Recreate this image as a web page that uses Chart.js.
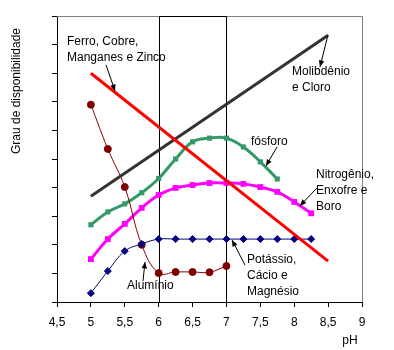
<!DOCTYPE html>
<html>
<head>
<meta charset="utf-8">
<script src="https://cdn.jsdelivr.net/npm/chart.js@4"></script>
<style>
html,body{margin:0;padding:0;background:#fff;}
#wrap{width:394px;height:350px;position:relative;}
</style>
</head>
<body>
<div id="wrap"><canvas id="c" width="394" height="350"></canvas></div>
<script>
// ---- data ----
const xTicks = [4.5, 5, 5.5, 6, 6.5, 7, 7.5, 8, 8.5, 9];
const ferroX = [5, 8.5];
const ferroY = [8.0, 1.43];
const molibX = [5, 8.5];
const molibY = [3.7, 9.33];
const fosforoX = [5, 5.25, 5.5, 5.75, 6, 6.25, 6.5, 6.75, 7, 7.25, 7.5, 7.75];
const fosforoY = [2.7, 3.15, 3.43, 3.82, 4.32, 5.0, 5.6, 5.73, 5.73, 5.42, 4.9, 4.3];
const nitroX = [5, 5.25, 5.5, 5.75, 6, 6.25, 6.5, 6.75, 7, 7.25, 7.5, 7.75, 8, 8.25];
const nitroY = [1.5, 2.2, 2.73, 3.29, 3.74, 3.99, 4.09, 4.16, 4.16, 4.13, 4.02, 3.85, 3.5, 3.1];
const potasX = [5, 5.25, 5.5, 5.75, 6, 6.25, 6.5, 6.75, 7, 7.25, 7.5, 7.75, 8, 8.25];
const potasY = [0.31, 1.08, 1.78, 2.03, 2.2, 2.2, 2.2, 2.2, 2.2, 2.2, 2.2, 2.2, 2.2, 2.2];
const aluX = [5, 5.25, 5.5, 5.75, 6, 6.25, 6.5, 6.75, 7];
const aluY = [6.9, 5.35, 4.02, 2.0, 1.01, 1.05, 1.05, 1.04, 1.26];

const pts = (xs, ys) => xs.map((x, i) => ({x: x, y: ys[i]}));

// annotations (data coords)
const notes = [
  {lines: ["Ferro, Cobre,", "Manganes e Zinco"], x: 4.648, y: 9.09, from: [5.223, 8.29], to: [5.356, 7.38]},
  {lines: ["Molibdênio", "e Cloro"], x: 7.967, y: 8.04, from: [8.498, 9.34], to: [8.38, 8.22]},
  {lines: ["fósforo"], x: 7.362, y: 5.59, from: [7.746, 5.42], to: [7.584, 4.76]},
  {lines: ["Nitrogênio,", "Enxofre e", "Boro"], x: 8.321, y: 4.45, from: [8.336, 3.99], to: [8.085, 3.36]},
  {lines: ["Potássio,", "Cácio e", "Magnésio"], x: 7.303, y: 1.47, from: [7.274, 1.29], to: [7.082, 2.17]},
  {lines: ["Alumínio"], x: 5.533, y: 0.56, from: [5.769, 0.73], to: [5.798, 1.40]}
];

const FONT = '12px "Liberation Sans", Arial, sans-serif';

const decor = {
  id: 'decor',
  beforeDatasetsDraw(chart) {
    const {ctx, chartArea: a, scales: {x, y}} = chart;
    ctx.save();
    // grey frame top/right
    ctx.strokeStyle = '#808080';
    ctx.lineWidth = 1;
    ctx.beginPath();
    ctx.moveTo(a.left, a.top + 0.5);
    ctx.lineTo(a.right + 0.5, a.top + 0.5);
    ctx.lineTo(a.right + 0.5, a.bottom);
    ctx.stroke();
    // black rectangle between pH 6 and 7
    const x6 = Math.round(x.getPixelForValue(6)) + 0.5;
    const x7 = Math.round(x.getPixelForValue(7)) + 0.5;
    ctx.strokeStyle = '#000';
    ctx.beginPath();
    ctx.moveTo(x6, a.bottom);
    ctx.lineTo(x6, a.top + 0.5);
    ctx.lineTo(x7, a.top + 0.5);
    ctx.lineTo(x7, a.bottom);
    ctx.stroke();
    ctx.restore();
  },
  afterDraw(chart) {
    const {ctx, chartArea: a, scales: {x, y}} = chart;
    ctx.save();
    ctx.fillStyle = '#000';
    ctx.strokeStyle = '#000';
    ctx.font = FONT;
    ctx.textBaseline = 'middle';
    ctx.textAlign = 'left';
    notes.forEach(n => {
      const tx = x.getPixelForValue(n.x), ty = y.getPixelForValue(n.y);
      n.lines.forEach((l, i) => ctx.fillText(l, tx, ty + i * 16));
      const fx = x.getPixelForValue(n.from[0]), fy = y.getPixelForValue(n.from[1]);
      const ex = x.getPixelForValue(n.to[0]), ey = y.getPixelForValue(n.to[1]);
      ctx.lineWidth = 1;
      ctx.beginPath();
      ctx.moveTo(fx, fy);
      ctx.lineTo(ex, ey);
      ctx.stroke();
      const ang = Math.atan2(ey - fy, ex - fx);
      const L = 7, W = 0.4;
      ctx.beginPath();
      ctx.moveTo(ex, ey);
      ctx.lineTo(ex - L * Math.cos(ang - W), ey - L * Math.sin(ang - W));
      ctx.lineTo(ex - L * Math.cos(ang + W), ey - L * Math.sin(ang + W));
      ctx.closePath();
      ctx.fill();
    });
    // y title
    ctx.save();
    ctx.translate(17, 91);
    ctx.rotate(-Math.PI / 2);
    ctx.textAlign = 'center';
    ctx.fillText('Grau de disponibilidade', 0, 0);
    ctx.restore();
    // x title
    ctx.textAlign = 'center';
    ctx.fillText('pH', 350, 341);
    ctx.restore();
  }
};

new Chart(document.getElementById('c'), {
  type: 'line',
  data: {
    datasets: [
      {data: pts(ferroX, ferroY), borderColor: '#FF0000', borderWidth: 3, pointRadius: 0, tension: 0},
      {data: pts(molibX, molibY), borderColor: '#333333', borderWidth: 3, pointRadius: 0, tension: 0},
      {data: pts(potasX, potasY), borderColor: '#000080', backgroundColor: '#000080', borderWidth: 1, pointStyle: 'rectRot', pointRadius: 3.5, pointBorderWidth: 1, tension: 0.4},
      {data: pts(aluX, aluY), borderColor: '#800000', backgroundColor: '#800000', borderWidth: 1, pointStyle: 'circle', pointRadius: 3.5, pointBorderWidth: 1, tension: 0.4},
      {data: pts(fosforoX, fosforoY), borderColor: '#339966', backgroundColor: '#339966', borderWidth: 3, pointStyle: 'rect', pointRadius: 1.5, tension: 0.4},
      {data: pts(nitroX, nitroY), borderColor: '#FF00FF', backgroundColor: '#FF00FF', borderWidth: 3, pointStyle: 'rect', pointRadius: 2, tension: 0.4}
    ]
  },
  options: {
    responsive: false,
    animation: false,
    devicePixelRatio: 1,
    layout: {padding: {left: 0, right: 32, top: 16, bottom: 0}},
    plugins: {legend: {display: false}, tooltip: {enabled: false}},
    scales: {
      x: {
        type: 'linear', min: 4.5, max: 9,
        afterBuildTicks(s) { s.ticks = xTicks.map(v => ({value: v})); },
        afterFit(s) { s.height = 48; },
        grid: {drawOnChartArea: false, drawTicks: true, tickLength: 5, color: '#000'},
        border: {color: '#000', width: 1},
        ticks: {color: '#000', font: {family: '"Liberation Sans", Arial, sans-serif', size: 12}, padding: 8, maxRotation: 0,
          callback: v => String(v).replace('.', ',')}
      },
      y: {
        type: 'linear', min: 0, max: 10,
        afterFit(s) { s.width = 57; },
        grid: {drawOnChartArea: false, drawTicks: true, tickLength: 5, color: '#000'},
        border: {color: '#000', width: 1},
        ticks: {stepSize: 1, callback: () => '', padding: 0}
      }
    }
  },
  plugins: [decor]
});
</script>
</body>
</html>
